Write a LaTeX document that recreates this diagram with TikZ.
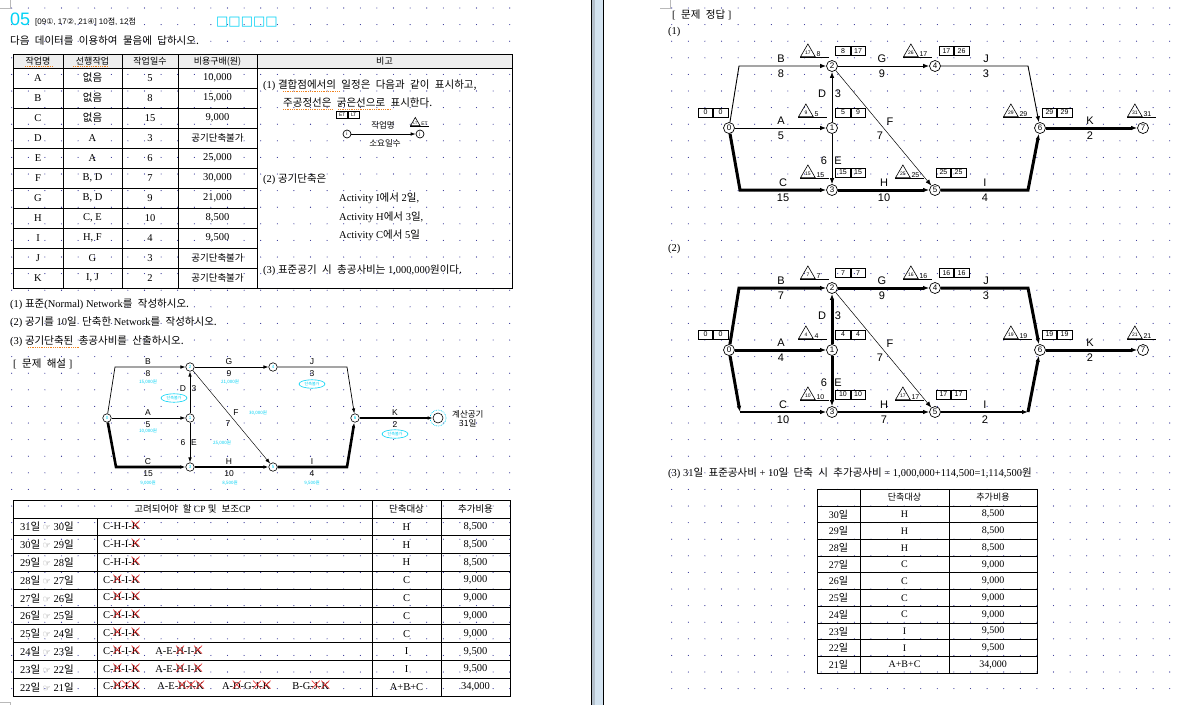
\documentclass[tikz,border=0pt]{standalone}
\usepackage{fontspec}
\setmainfont{Liberation Serif}
\setsansfont{Liberation Sans}
\newfontfamily\kr[WordSpace=2.3]{Noto Sans CJK KR}
\newfontfamily\djv{DejaVu Sans}
\usetikzlibrary{arrows.meta,calc,shapes.geometric}
\definecolor{gridblue}{RGB}{30,30,140}
\definecolor{qcyan}{RGB}{0,210,245}
\definecolor{xred}{RGB}{235,20,20}
\definecolor{headgray}{RGB}{238,238,238}
\definecolor{sepblue}{RGB}{211,227,240}
\definecolor{sepgray}{RGB}{180,192,204}
\definecolor{markgray}{RGB}{185,185,185}
\definecolor{spellorange}{RGB}{240,130,30}

\newcommand{\fs}[1]{\fontsize{#1}{#1}\selectfont}
% red cross over a letter
\newcommand{\xk}[1]{\ooalign{#1\cr\hidewidth\textcolor{xred}{\scalebox{1.6}{$\times$}}\hidewidth\cr}}

% triangle mark with the number beside it
\newcommand{\lstmark}[4]{%
  \node[lstri, anchor=corner 2] (#1) at (#2) {#3};
  \node[marktxt, anchor=south west] (#1x) at (#1.corner 3) {#4};
  \draw[line width=0.6pt] (#1.corner 2) -- ++(29,0);
}
% two-cell box
\newcommand{\etbox}[4]{%
  \node[etcell, anchor=east] (#1l) at (#2) {#3};
  \node[etcell, anchor=west] (#1r) at (#2) {#4};
}
% events of one answer network
\newcommand{\placenet}[2]{%
  \node[evt] (#10) at (729,{128+#2}) {0};
  \node[evt] (#11) at (832,{128+#2}) {1};
  \node[evt] (#12) at (832,{66+#2}) {2};
  \node[evt] (#13) at (832,{190+#2}) {3};
  \node[evt] (#14) at (935,{66+#2}) {4};
  \node[evt] (#15) at (935,{190+#2}) {5};
  \node[evt] (#16) at (1040,{128+#2}) {6};
  \node[evt] (#17) at (1143,{128+#2}) {7};
  \coordinate (#1tl) at (739,{66+#2});
  \coordinate (#1bl) at (740,{190+#2});
  \coordinate (#1tr) at (1028,{66+#2});
  \coordinate (#1br) at (1028,{190+#2});
}

\tikzset{
  evt/.style={circle, draw, line width=0.7pt, minimum size=11pt, inner sep=0pt,
    fill=white, font=\sffamily\fs{8}},
  sevt/.style={circle, draw, line width=0.6pt, minimum size=8.5pt, inner sep=0pt,
    fill=white, text=qcyan, font=\sffamily\fs{4.5}},
  act/.style={line width=0.9pt, -{Latex[length=6pt,width=4.5pt]}},
  crit/.style={line width=3pt, -{Latex[length=6pt,width=4.5pt]}},
  midcrit/.style={line width=2.2pt, -{Latex[length=6pt,width=4.5pt]}},
  fine/.style={line width=0.5pt, -{Latex[length=6pt,width=4.5pt]}},
  sact/.style={line width=0.7pt, -{Latex[length=5pt,width=3.6pt]}},
  scrit/.style={line width=2.6pt, -{Latex[length=5pt,width=3.6pt]}},
  sfine/.style={line width=0.45pt, -{Latex[length=5pt,width=3.6pt]}},
  lbl/.style={font=\sffamily\fs{11}, inner sep=0pt},
  slbl/.style={font=\sffamily\fs{8.5}, inner sep=0pt},
  note/.style={text=qcyan, font=\kr\fs{4.5}, inner sep=0pt},
  noteball/.style={ellipse, draw=qcyan, line width=0.6pt, text=qcyan, minimum width=26pt,
    minimum height=8.5pt, inner sep=0pt, font=\kr\fs{4}},
  lstri/.style={regular polygon, regular polygon sides=3, draw, line width=0.6pt,
    minimum size=17pt, inner sep=0pt, font=\sffamily\fs{5}},
  marktxt/.style={font=\sffamily\fs{7}, inner sep=0.6pt},
  etcell/.style={draw, line width=0.6pt, minimum width=14.5pt, minimum height=9pt,
    inner sep=0pt, font=\sffamily\fs{7}},
  txt/.style={anchor=west, inner sep=0pt, font=\fs{10.5}},
  cell/.style={inner sep=0pt, font=\fs{10.5}},
  rule/.style={line width=0.8pt},
  spell/.style={draw=spellorange, densely dotted, line width=0.8pt}
}

\begin{document}
\begin{tikzpicture}[x=1pt, y=-1pt]
\useasboundingbox (0,0) rectangle (1182,705);
% pages and gutter
\fill[white] (0,0) rectangle (1182,705);
\fill[sepgray] (592,0) rectangle (595,705);
\fill[sepblue] (595,0) rectangle (603,705);
\fill[black] (590.8,0) rectangle (592.2,705);
\fill[black] (603,0) rectangle (604.4,705);
\draw[markgray, line width=0.6pt] (0,8) -- (10,8) -- (10,0) (660,8) -- (670,8) -- (670,0)
  (0,702) -- (10,702) -- (10,705);
% dotted grid
\foreach \i in {0,...,30}
  \foreach \j in {0,...,41} {
    \fill[gridblue] ({11.7+16.6*\i},{8+16.6*\j}) circle (0.55);
    \fill[gridblue] ({671.7+16.6*\i},{8+16.6*\j}) circle (0.55);
  }

% ---------- left page
\node[anchor=base west, inner sep=0pt, text=qcyan, font=\sffamily\fs{18}] (qno) at (10,25.5) {05};
\node[anchor=base west, inner sep=0pt, font=\sffamily\fs{8}] (qsrc) at (35,24)
  {[09{\djv①}, 17{\djv②}, 21{\djv④}] 10{\kr 점}, 12{\kr 점}};
\node[anchor=base west, inner sep=0pt, text=qcyan, font=\djv\fs{13}] (qbox) at (216,25) {□□□□□};
\node[txt] (qtext) at (10,41) {\kr 다음 데이터를 이용하여 물음에 답하시오.};

% data table
\fill[headgray] (13,54) rectangle (512,68);
\draw[rule] (13,54) rectangle (512,288);
\foreach \x in {63,122,178,257} \draw[rule] (\x,54) -- (\x,288);
\draw[rule] (13,68) -- (512,68);
\foreach \k in {1,...,10} \draw[rule] (13,{68+20*\k}) -- (257,{68+20*\k});
\foreach \x/\hd [count=\hn] in {38/작업명, 92.5/선행작업, 150/작업일수, 217.5/비용구배(원), 384.5/비고}
  \node[cell, font=\kr\fs{9}] (h\hn) at (\x,61.5) {\hd};
\foreach \jname/\jprev/\jdur/\jcost [count=\i] in {A/{\kr 없음}/5/{10,000},
    B/{\kr 없음}/8/{15,000}, C/{\kr 없음}/15/{9,000}, D/A/3/{\kr\fs{9.5}공기단축불가},
    E/A/6/{25,000}, F/{B, D}/7/{30,000}, G/{B, D}/9/{21,000}, H/{C, E}/10/{8,500},
    I/{H, F}/4/{9,500}, J/G/3/{\kr\fs{9.5}공기단축불가}, K/{I, J}/2/{\kr\fs{9.5}공기단축불가}} {
  \node[cell] (t\i-a) at (38,{58+20*\i}) {\jname};
  \node[cell] (t\i-b) at (92.5,{58+20*\i}) {\jprev};
  \node[cell] (t\i-c) at (150,{58+20*\i}) {\jdur};
  \node[cell] (t\i-d) at (217.5,{58+20*\i}) {\jcost};
}
\draw[spell] (25,66) -- (53,66) (73,66) -- (108,66);

% remarks column
\node[txt] (rem1) at (263,85) {(1) {\kr 결합점에서의 일정은 다음과 같이 표시하고,}};
\node[txt] (rem1b) at (283,103) {\kr 주공정선은 굵은선으로 표시한다.};
\draw[spell] (283,91) -- (339,91) (283,109) -- (332,109) (338,109) -- (392,109);
\node[etcell, font=\sffamily\fs{5}, minimum width=11pt, minimum height=7pt, anchor=east] (lgl) at (348,115) {ET};
\node[etcell, font=\sffamily\fs{5}, minimum width=11pt, minimum height=7pt, anchor=west] (lgr) at (348,115) {LT};
\node[circle, draw, line width=0.7pt, minimum size=8pt, inner sep=0pt, font=\sffamily\fs{5}] (lgi) at (347,134) {i};
\node[circle, draw, line width=0.7pt, minimum size=8pt, inner sep=0pt, font=\sffamily\fs{5}] (lgj) at (420,134) {j};
\draw[sact] (lgi) -- (lgj);
\node[cell, font=\kr\fs{8.5}] (lgname) at (383,125) {작업명};
\node[cell, font=\kr\fs{8.5}] (lgdur) at (385,143) {소요일수};
\node[lstri, minimum size=11pt, font=\sffamily\fs{3.5}, anchor=corner 2] (lgt) at (410,126) {LT};
\node[marktxt, font=\sffamily\fs{5}, anchor=south west] (lgtx) at (lgt.corner 3) {ET};
\draw[line width=0.6pt] (lgt.corner 2) -- ++(19,0);
\node[txt] (rem2) at (263,179) {(2) {\kr 공기단축은}};
\node[txt] (rem2a) at (339,198) {Activity I{\kr 에서} 2{\kr 일},};
\node[txt] (rem2b) at (339,217) {Activity H{\kr 에서} 3{\kr 일},};
\node[txt] (rem2c) at (339,235) {Activity C{\kr 에서} 5{\kr 일}};
\node[txt] (rem3) at (263,270) {(3) {\kr 표준공기 시 총공사비는} 1,000,000{\kr 원이다.}};

% questions
\node[txt] (ask1) at (10,304) {(1) {\kr 표준}(Normal) Network{\kr 를 작성하시오.}};
\node[txt] (ask2) at (10,322) {(2) {\kr 공기를} 10{\kr 일 단축한} Network{\kr 를 작성하시오.}};
\node[txt] (ask3) at (10,341) {(3) {\kr 공기단축된 총공사비를 산출하시오.}};
\draw[spell] (28,347) -- (80,347);
\node[txt] (expl) at (13,364) {[{\kr\ 문제 해설} ]};

% worked network
\node[sevt] (s0) at (107,418) {0};
\node[sevt] (s1) at (190,418) {1};
\node[sevt] (s2) at (190,367) {2};
\node[sevt] (s3) at (190,467) {3};
\node[sevt] (s4) at (273,367) {4};
\node[sevt] (s5) at (273,467) {5};
\node[sevt] (s6) at (355,418) {6};
\node[sevt, minimum size=10pt] (s7) at (438,418) {};
\node[circle, draw=qcyan, densely dotted, line width=0.7pt, minimum size=16pt] (s7ring) at (s7) {};
\coordinate (stl) at (115,367);
\coordinate (sbl) at (116,467);
\coordinate (str) at (347,367);
\coordinate (sbr) at (347,467);
\draw[sact] (s0) -- (stl) -- (s2);
\draw[sact] (s2) -- (s4);
\draw[sact] (s4) -- (str) -- (s6);
\draw[sact] (s0) -- (s1);
\draw[sact] (s1) -- (s2);
\draw[sact] (s1) -- (s3);
\draw[sfine] (s2) -- (s5);
\draw[scrit] (s0) -- (sbl) -- (s3);
\draw[scrit] (s3) -- (s5);
\draw[scrit] (s5) -- (sbr) -- (s6);
\draw[scrit] (s6) -- (s7);
\foreach \nm/\x/\y/\dur in {B/148/367/8, G/229/367/9, J/312/367/3, A/148/418/5,
    C/148/467/15, H/229/467/10, I/312/467/4, K/395/418/2} {
  \node[slbl] (s\nm) at (\x,\y-5.5) {\nm};
  \node[slbl] (s\nm-d) at (\x,\y+6.5) {\dur};
}
\node[slbl] (sD) at (183,389) {D};
\node[slbl] (sD-d) at (194,389) {3};
\node[slbl] (sE-d) at (183,443) {6};
\node[slbl] (sE) at (194,443) {E};
\node[slbl] (sF) at (236,413) {F};
\node[slbl] (sF-d) at (228,424) {7};
\node[note] (sBn) at (148,382) {15,000원};
\node[note] (sGn) at (230,382) {21,000원};
\node[note] (sAn) at (148,431) {10,000원};
\node[note] (sFn) at (258,413) {30,000원};
\node[note] (sEn) at (222,443) {25,000원};
\node[note] (sCn) at (148,483) {9,000원};
\node[note] (sHn) at (230,483) {8,500원};
\node[note] (sIn) at (312,483) {9,500원};
\node[noteball] (sDn) at (174,398) {단축불가};
\node[noteball] (sJn) at (312,384) {단축불가};
\node[noteball] (sKn) at (395,434) {단축불가};
\node[font=\kr\fs{8.5}, align=center, inner sep=0pt, anchor=west] (stotal) at (452,419) {계산공기\\31일};

% crashing table
\draw[rule] (13,500) rectangle (510,696);
\draw[rule] (13,518) -- (510,518);
\foreach \x in {372,441} \draw[rule] (\x,500) -- (\x,696);
\draw[rule] (97,518) -- (97,696);
\foreach \k in {1,...,9} \draw[rule] (13,{518+17.8*\k}) -- (510,{518+17.8*\k});
\node[cell, font=\fs{9.5}] (ch1) at (192.5,509) {{\kr 고려되어야 할} CP {\kr 및 보조}CP};
\node[cell, font=\kr\fs{9.5}] (ch2) at (406.5,509) {단축대상};
\node[cell, font=\kr\fs{9.5}] (ch3) at (475.5,509) {추가비용};
\foreach \cp/\tg/\co [count=\i] in {
    {C-H-I-\xk{K}}/H/{8,500}, {C-H-I-\xk{K}}/H/{8,500}, {C-H-I-\xk{K}}/H/{8,500},
    {C-\xk{H}-I-\xk{K}}/C/{9,000}, {C-\xk{H}-I-\xk{K}}/C/{9,000},
    {C-\xk{H}-I-\xk{K}}/C/{9,000}, {C-\xk{H}-I-\xk{K}}/C/{9,000},
    {C-\xk{H}-I-\xk{K}\hspace{16pt}A-E-\xk{H}-I-\xk{K}}/I/{9,500},
    {C-\xk{H}-I-\xk{K}\hspace{16pt}A-E-\xk{H}-I-\xk{K}}/I/{9,500},
    {C-\xk{H}-\xk{I}-\xk{K}\hspace{18pt}A-E-\xk{H}-\xk{I}-\xk{K}\hspace{18pt}A-\xk{D}-G-\xk{J}-\xk{K}\hspace{22pt}B-G-\xk{J}-\xk{K}}/A+B+C/{34,000}} {
  \pgfmathtruncatemacro{\dfrom}{32-\i}
  \pgfmathtruncatemacro{\dto}{31-\i}
  \node[cell, anchor=west] (c\i-a) at (20,{518+17.8*\i-8.9})
    {\dfrom{\kr 일} \textcolor{gray}{\djv\fs{9}☞} \dto{\kr 일}};
  \node[cell, anchor=west] (c\i-b) at (103,{518+17.8*\i-8.9}) {\cp};
  \node[cell] (c\i-c) at (406.5,{518+17.8*\i-8.9}) {\tg};
  \node[cell] (c\i-d) at (475.5,{518+17.8*\i-8.9}) {\co};
}

% ---------- right page
\node[txt] (ans) at (672,15) {[{\kr\ 문제 정답} ]};
\node[txt] (ans1) at (668,32) {(1)};

% normal network
\placenet{a}{0}
\draw[act] (a0) -- (atl) -- (a2);
\draw[act] (a2) -- (a4);
\draw[act] (a4) -- (atr) -- (a6);
\draw[act] (a0) -- (a1);
\draw[act] (a1) -- (a2);
\draw[act] (a1) -- (a3);
\draw[fine] (a2) -- (a5);
\draw[crit] (a0) -- (abl) -- (a3);
\draw[crit] (a3) -- (a5);
\draw[crit] (a5) -- (abr) -- (a6);
\draw[crit] (a6) -- (a7);
\foreach \nm/\x/\y/\dur in {B/781/66/8, G/882/66/9, J/986/66/3, A/781/128/5,
    C/783/190/15, H/884/190/10, I/985/190/4, K/1090/128/2} {
  \node[lbl] (a\nm) at (\x,\y-7) {\nm};
  \node[lbl] (a\nm-d) at (\x,\y+8) {\dur};
}
\node[lbl] (aD) at (822,94) {D};
\node[lbl] (aD-d) at (838,94) {3};
\node[lbl] (aE-d) at (824,161) {6};
\node[lbl] (aE) at (838,161) {E};
\node[lbl] (aF) at (890,122) {F};
\node[lbl] (aF-d) at (880,136) {7};
\etbox{a0b}{$(a0)+(-16,-15.5)$}{0}{0}
\lstmark{a1t}{$(a1)+(-34,-11)$}{9}{5}
\etbox{a1b}{$(a1)+(18.5,-15.5)$}{5}{9}
\lstmark{a2t}{$(a2)+(-32,-9)$}{17}{8}
\etbox{a2b}{$(a2)+(18.5,-15)$}{8}{17}
\lstmark{a3t}{$(a3)+(-32,-12)$}{15}{15}
\etbox{a3b}{$(a3)+(18.5,-17.5)$}{15}{15}
\lstmark{a4t}{$(a4)+(-32,-9)$}{26}{17}
\etbox{a4b}{$(a4)+(19,-15)$}{17}{26}
\lstmark{a5t}{$(a5)+(-40,-12)$}{25}{25}
\etbox{a5b}{$(a5)+(16,-17.5)$}{25}{25}
\lstmark{a6t}{$(a6)+(-37,-11)$}{29}{29}
\etbox{a6b}{$(a6)+(17,-15.5)$}{29}{29}
\lstmark{a7t}{$(a7)+(-16,-11)$}{31}{31}

% crashed network
\node[txt] (ans2) at (668,249) {(2)};
\placenet{b}{222}
\draw[crit] (b0) -- (btl) -- (b2);
\draw[crit] (b2) -- (b4);
\draw[crit] (b4) -- (btr) -- (b6);
\draw[crit] (b0) -- (b1);
\draw[crit] (b1) -- (b2);
\draw[crit] (b1) -- (b3);
\draw[fine] (b2) -- (b5);
\draw[crit] (b0) -- (bbl);
\draw[midcrit] (bbl) -- (b3);
\draw[midcrit] (b3) -- (b5);
\draw[midcrit] (b5) -- (bbr);
\draw[crit] (bbr) -- (b6);
\draw[crit] (b6) -- (b7);
\foreach \nm/\x/\y/\dur in {B/781/288/7, G/882/288/9, J/986/288/3, A/781/350/4,
    C/783/412/10, H/884/412/7, I/985/412/2, K/1090/350/2} {
  \node[lbl] (b\nm) at (\x,\y-7) {\nm};
  \node[lbl] (b\nm-d) at (\x,\y+8) {\dur};
}
\node[lbl] (bD) at (822,316) {D};
\node[lbl] (bD-d) at (838,316) {3};
\node[lbl] (bE-d) at (824,383) {6};
\node[lbl] (bE) at (838,383) {E};
\node[lbl] (bF) at (890,344) {F};
\node[lbl] (bF-d) at (880,358) {7};
\etbox{b0b}{$(b0)+(-16,-15.5)$}{0}{0}
\lstmark{b1t}{$(b1)+(-34,-11)$}{4}{4}
\etbox{b1b}{$(b1)+(18.5,-15.5)$}{4}{4}
\lstmark{b2t}{$(b2)+(-32,-9)$}{7}{7}
\etbox{b2b}{$(b2)+(18.5,-15)$}{7}{7}
\lstmark{b3t}{$(b3)+(-32,-12)$}{10}{10}
\etbox{b3b}{$(b3)+(18.5,-17.5)$}{10}{10}
\lstmark{b4t}{$(b4)+(-32,-9)$}{16}{16}
\etbox{b4b}{$(b4)+(19,-15)$}{16}{16}
\lstmark{b5t}{$(b5)+(-40,-12)$}{17}{17}
\etbox{b5b}{$(b5)+(16,-17.5)$}{17}{17}
\lstmark{b6t}{$(b6)+(-37,-11)$}{19}{19}
\etbox{b6b}{$(b6)+(17,-15.5)$}{19}{19}
\lstmark{b7t}{$(b7)+(-16,-11)$}{21}{21}

% total cost
\node[txt] (ans3) at (668,473)
  {(3) 31{\kr 일 표준공사비} + 10{\kr 일 단축 시 추가공사비} = 1,000,000+114,500=1,114,500{\kr 원}};
\draw[rule] (817,489) rectangle (1037,673);
\foreach \x in {860,949} \draw[rule] (\x,489) -- (\x,673);
\foreach \k in {0,...,9} \draw[rule] (817,{506+16.7*\k}) -- (1037,{506+16.7*\k});
\node[cell, font=\kr\fs{9}] (rh2) at (904.5,497.5) {단축대상};
\node[cell, font=\kr\fs{9}] (rh3) at (993,497.5) {추가비용};
\foreach \tg/\co [count=\i] in {H/{8,500}, H/{8,500}, H/{8,500}, C/{9,000}, C/{9,000},
    C/{9,000}, C/{9,000}, I/{9,500}, I/{9,500}, A+B+C/{34,000}} {
  \pgfmathtruncatemacro{\dto}{31-\i}
  \node[cell, font=\fs{10}] (r\i-a) at (838.5,{506+16.7*\i-8.35}) {\dto{\kr 일}};
  \node[cell, font=\fs{10}] (r\i-b) at (904.5,{506+16.7*\i-8.35}) {\tg};
  \node[cell, font=\fs{10}] (r\i-c) at (993,{506+16.7*\i-8.35}) {\co};
}
\end{tikzpicture}
\end{document}
